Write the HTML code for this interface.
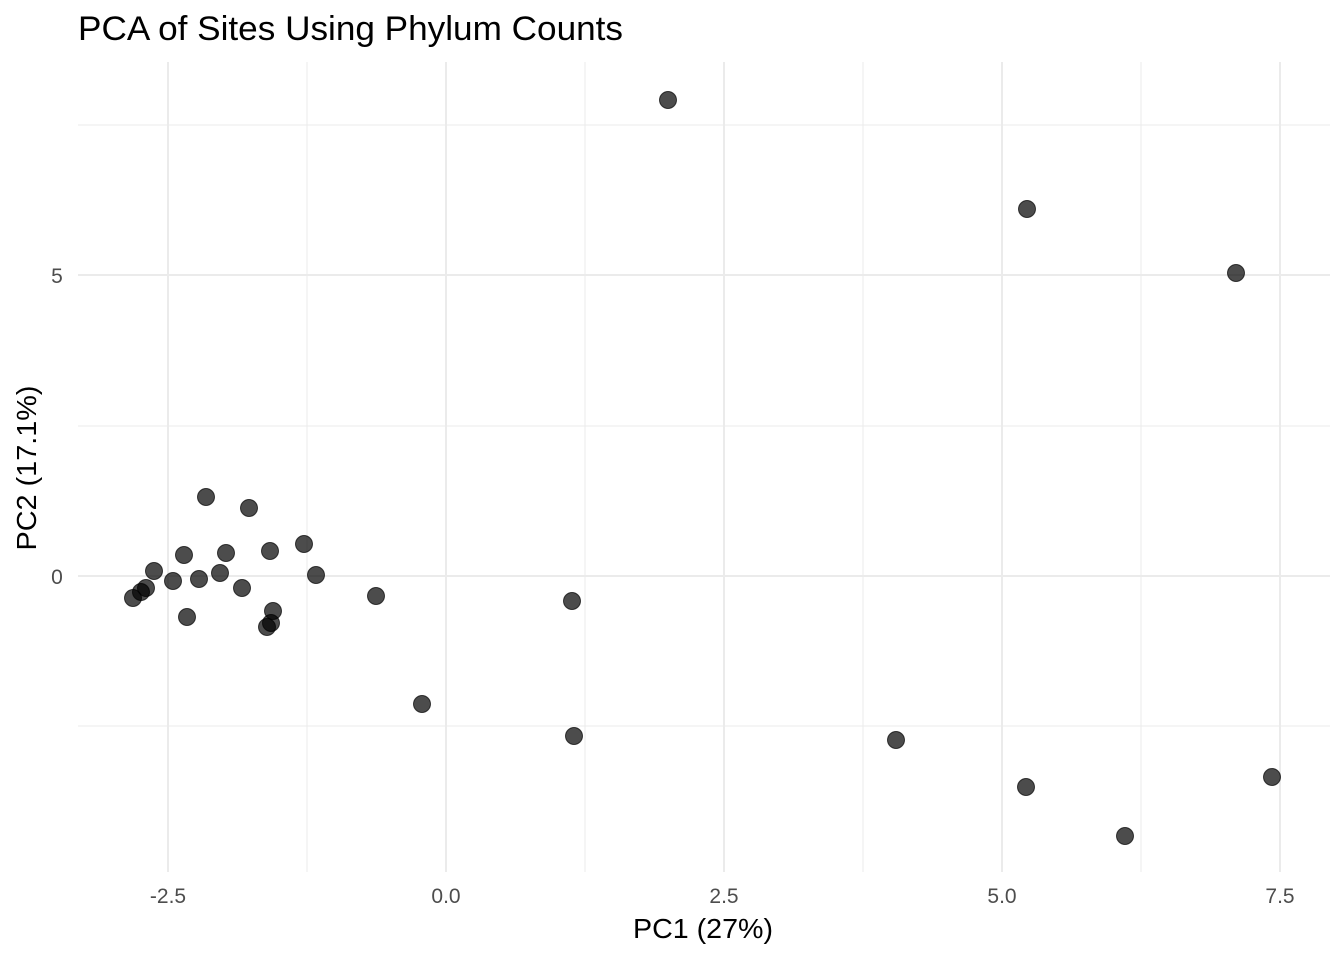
<!DOCTYPE html>
<html><head><style>body{margin:0;background:#fff}</style></head><body>
<svg width="1344" height="960" xmlns="http://www.w3.org/2000/svg" font-family="Liberation Sans, sans-serif">
<rect width="1344" height="960" fill="#fff"/>
<g stroke="#ebebeb" stroke-width="1">
<line x1="78" x2="1330" y1="125" y2="125"/><line x1="78" x2="1330" y1="426" y2="426"/><line x1="78" x2="1330" y1="726" y2="726"/>
<line x1="307" x2="307" y1="62" y2="872"/><line x1="585" x2="585" y1="62" y2="872"/><line x1="863" x2="863" y1="62" y2="872"/><line x1="1141" x2="1141" y1="62" y2="872"/>
</g>
<g stroke="#ebebeb" stroke-width="2">
<line x1="78" x2="1330" y1="275" y2="275"/><line x1="78" x2="1330" y1="576" y2="576"/>
<line x1="168" x2="168" y1="62" y2="872"/><line x1="446" x2="446" y1="62" y2="872"/><line x1="724" x2="724" y1="62" y2="872"/><line x1="1002" x2="1002" y1="62" y2="872"/><line x1="1280" x2="1280" y1="62" y2="872"/>
</g>
<g fill="#000" fill-opacity="0.7" stroke="#000" stroke-opacity="0.7">
<circle cx="668" cy="100" r="8.5"/><circle cx="1027" cy="209" r="8.5"/><circle cx="1236" cy="273" r="8.5"/>
<circle cx="206" cy="497" r="8.5"/><circle cx="249" cy="508" r="8.5"/><circle cx="304" cy="544" r="8.5"/>
<circle cx="184" cy="555" r="8.5"/><circle cx="226" cy="553" r="8.5"/><circle cx="270" cy="551" r="8.5"/>
<circle cx="154" cy="571" r="8.5"/><circle cx="220" cy="573" r="8.5"/><circle cx="316" cy="575" r="8.5"/>
<circle cx="173" cy="581" r="8.5"/><circle cx="199" cy="579" r="8.5"/><circle cx="146" cy="588" r="8.5"/>
<circle cx="141" cy="592" r="8.5"/><circle cx="242" cy="588" r="8.5"/><circle cx="133" cy="598" r="8.5"/>
<circle cx="376" cy="596" r="8.5"/><circle cx="572" cy="601" r="8.5"/><circle cx="273" cy="611" r="8.5"/>
<circle cx="187" cy="617" r="8.5"/><circle cx="271" cy="623" r="8.5"/><circle cx="267" cy="627" r="8.5"/>
<circle cx="422" cy="704" r="8.5"/><circle cx="574" cy="736" r="8.5"/><circle cx="896" cy="740" r="8.5"/>
<circle cx="1272" cy="777" r="8.5"/><circle cx="1026" cy="787" r="8.5"/><circle cx="1125" cy="836" r="8.5"/>
</g>
<g fill="#4d4d4d" font-size="21" text-anchor="middle">
<text x="168" y="903">-2.5</text><text x="446" y="903">0.0</text><text x="724" y="903">2.5</text><text x="1002" y="903">5.0</text><text x="1280" y="903">7.5</text>
<text x="57" y="283">5</text><text x="57" y="584">0</text>
</g>
<text x="703" y="938" font-size="28" text-anchor="middle" textLength="140" lengthAdjust="spacingAndGlyphs">PC1 (27%)</text>
<text transform="translate(36,468) rotate(-90)" font-size="28" text-anchor="middle" textLength="165" lengthAdjust="spacingAndGlyphs">PC2 (17.1%)</text>
<text x="78" y="40" font-size="34" textLength="545" lengthAdjust="spacingAndGlyphs">PCA of Sites Using Phylum Counts</text>
</svg>
</body></html>
